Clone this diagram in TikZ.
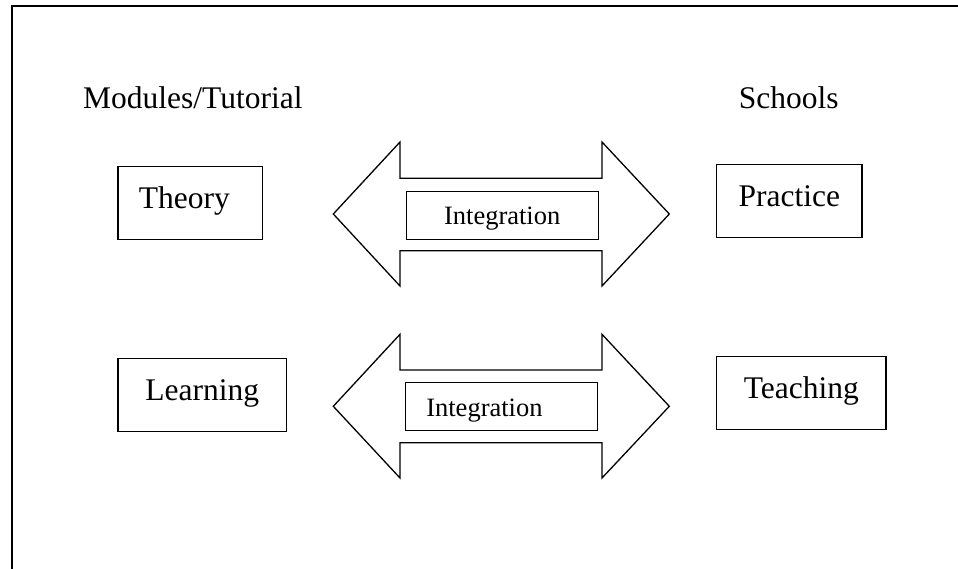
\documentclass[tikz,border=0pt]{standalone}
\usepackage{fontspec}
\setmainfont{Liberation Serif}
\begin{document}
\begin{tikzpicture}[x=1pt,y=-1pt,
  bigtext/.style={font=\fontsize{31.5}{36}\selectfont},
  labelbox/.style={draw,line width=1.5pt,rectangle,bigtext,inner ysep=0pt,
    text height=22pt,text depth=11pt,minimum height=72.6pt},
  intbox/.style={draw,line width=1.3pt,rectangle,font=\fontsize{26.5}{30}\selectfont,
    inner ysep=0pt,minimum height=48pt,minimum width=192pt},
  arrowline/.style={draw,line width=1.3pt,line join=miter}]
\useasboundingbox (0,0) rectangle (958,569);
% frame
\draw[line width=2pt] (12,569) -- (12,6) -- (958,6);
% headings
\node[bigtext,anchor=base west,inner sep=0pt] (mod) at (83,109) {Modules/Tutorial};
\node[bigtext,anchor=base west,inner sep=0pt] (sch) at (738.7,108.7) {Schools};
% boxes
\node[labelbox,inner xsep=21pt,text width=102.7pt,align=left] (theory) at (190.3,203) {Theory};
\node[labelbox,minimum width=145.3pt] (practice) at (789.3,201) {Practice};
\node[labelbox,minimum width=168.7pt] (learning) at (202.3,395) {Learning};
\node[labelbox,minimum width=169.3pt] (teaching) at (801.3,393) {Teaching};
% double arrows
\draw[arrowline] (333.3,214) -- (400,142) -- (400,178.3) -- (602,178.3) -- (602,142)
  -- (669.3,214) -- (602,286) -- (602,250.7) -- (400,250.7) -- (400,286) -- cycle;
\draw[arrowline] (333.3,406.3) -- (400,334.3) -- (400,370) -- (602,370) -- (602,334.3)
  -- (669.3,406.3) -- (602,478) -- (602,442.7) -- (400,442.7) -- (400,478) -- cycle;
% integration boxes
\node[intbox,text height=18pt,text depth=0pt] (int1) at (502.2,215.2) {Integration};
\node[intbox,text height=20.8pt,text depth=0pt,inner xsep=21pt,text width=150pt,align=left] (int2) at (501.3,406.3) {Integration};
\end{tikzpicture}
\end{document}
